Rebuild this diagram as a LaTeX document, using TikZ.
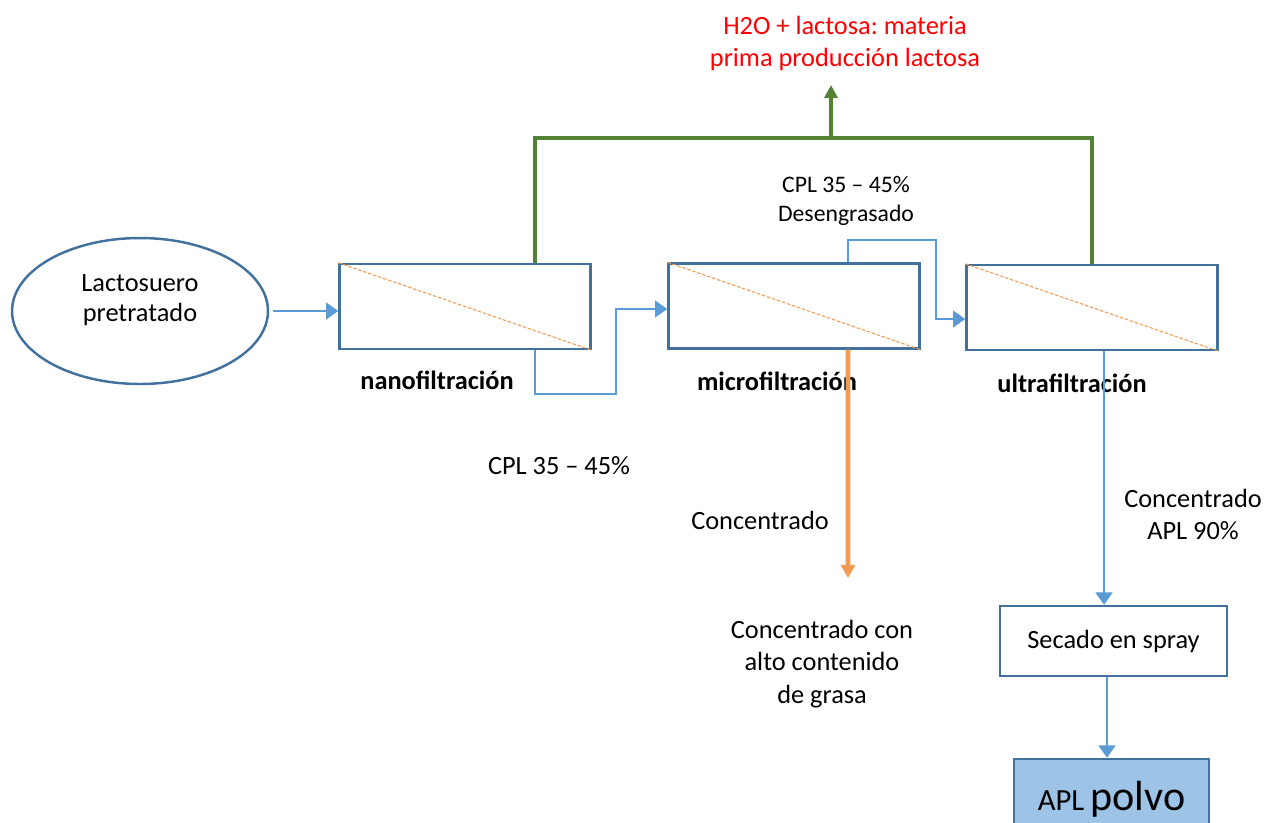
\documentclass[tikz,border=0pt]{standalone}
\usepackage{fontspec}
\setmainfont{Carlito}
\usepackage{xcolor}
\usetikzlibrary{arrows.meta,shapes.geometric,positioning}
\definecolor{boxblue}{HTML}{41719C}
\definecolor{flowblue}{HTML}{5B9BD5}
\definecolor{permgreen}{HTML}{548235}
\definecolor{fatorange}{HTML}{F19A52}
\definecolor{powderblue}{HTML}{9DC3E6}
\frenchspacing

\begin{document}
\begin{tikzpicture}[x=0.02cm,y=-0.02cm,font=\fontsize{15}{18.4}\selectfont]
		
		\tikzset{filter box/.style={
				draw=boxblue,
				line width=1.4pt,
				minimum width=#1,
				minimum height=1.7cm,
				inner sep=0pt
			},
			filter box/.default=5.02cm,
			membrane/.style={draw=fatorange, line width=0.6pt, dash pattern=on 2pt off 1pt},
			stage label/.style={font=\fontsize{15}{18.4}\selectfont\bfseries},
			flow arrow/.style={draw=flowblue, line width=1.4pt,
				-{Triangle[length=7pt,width=9.5pt]}},
			perm line/.style={draw=permgreen, line width=2.6pt},
			fat arrow/.style={draw=fatorange, line width=2.6pt,
				-{Triangle[length=7.5pt,width=8pt]}}
		}
		
		\useasboundingbox (0,0) rectangle (1266,822);
		
		% feed and membranes
		\node[ellipse, draw=boxblue, line width=1.4pt, minimum width=5.12cm,
			minimum height=2.92cm] (feed) at (140,311) {};
		\node[align=center, font=\fontsize{15}{16.8}\selectfont] (feedtxt) at (140,300) {Lactosuero\\pretratado};
		\node[filter box] (nano) at (465,306.5) {};
		\node[filter box] (micro) at (794,306) {};
		\node[filter box] (ultra) at (1092,307.5) {};
		\foreach \m in {nano,micro,ultra}
			\draw[membrane] (\m.north west) -- (\m.south east);
		
		\node[stage label] (nanolbl) at (437,380) {nanofiltración};
		\node[stage label] (microlbl) at (777,381) {microfiltración};
		\node[stage label] (ultralbl) at (1072,383) {ultrafiltración};
		
		% drying
		\node[filter box=4.54cm, minimum height=1.4cm] (dryer) at (1113.5,641) {Secado en spray};
		\node[filter box=3.9cm, minimum height=1.62cm, fill=powderblue] (powder) at (1111.5,799.5)
			{{\fontsize{17.5}{20}\selectfont APL} {\fontsize{24}{26}\selectfont polvo}};
		
		% texts
		\node[text=red, align=center] (product) at (845,43.5) {H2O + lactosa: materia\\prima producción lactosa};
		\node (cplA) at (559,466) {CPL 35 – 45\%};
		\node[align=center, font=\fontsize{13.5}{16.6}\selectfont] (cplB) at (846,201) {CPL 35 – 45\%\\Desengrasado};
		\node (concA) at (760,520) {Concentrado};
		\node[align=center] (fatty) at (822,664) {Concentrado con\\alto contenido\\de grasa};
		\node[align=center] (concB) at (1193,514.5) {Concentrado\\APL 90\%};
		
		% connectors
		\coordinate (greentop) at (831,138);
		\coordinate (greentip) at (831,85);
		\coordinate (fattip) at (848,578);
		\coordinate (uout) at ([xshift=0.24cm]ultra.south);
		\coordinate (dout) at ([xshift=-0.13cm]dryer.south);
		
		\draw[flow arrow, shorten <=0.08cm] (feed.east) -- (feed.east -| nano.west);
		\draw[flow arrow] ([xshift=1.4cm]nano.south) |- (616,394) |- ([yshift=-0.06cm]micro.west);
		\draw[flow arrow] ([xshift=1.08cm]micro.north) |- (936,240) |- ([yshift=-0.23cm]ultra.west);
		\draw[perm line] ([xshift=1.4cm]nano.north) |- (greentop) -| (ultra.north);
		\draw[perm line, -{Triangle[length=7.5pt,width=7.5pt]}] (greentop) -- (greentip);
		\draw[fat arrow] ([xshift=1.08cm]micro.south) -- (fattip);
		\draw[flow arrow] (uout) -- (uout |- dryer.north);
		\draw[flow arrow] (dout) -- (dout |- powder.north);
		
\end{tikzpicture}
\end{document}
